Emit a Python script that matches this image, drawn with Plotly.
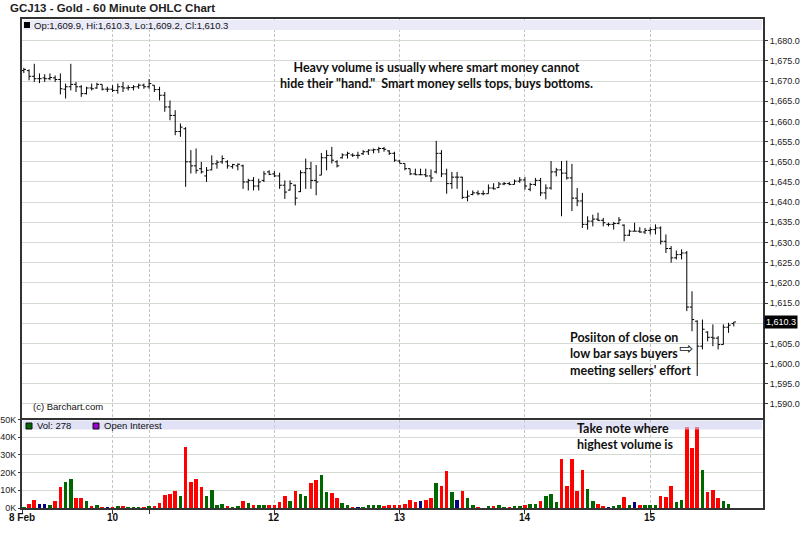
import plotly.graph_objects as go

# ---------------- data ----------------
title_text = "GCJ13 - Gold - 60 Minute OHLC Chart"
header_text = "Op:1,609.9, Hi:1,610.3, Lo:1,609.2, Cl:1,610.3"
vol_legend_text = "Vol: 278"
oi_legend_text = "Open Interest"
last_close_label = "1,610.3"
last_close = 1610.3

opens = [
    1672.6, 1672.6, 1671.2, 1670.6, 1670.8, 1670.6, 1670.8, 1670.4, 1668.0, 1668.6,
    1669.2, 1668.6, 1666.9, 1668.3, 1668.3, 1669.2, 1668.0, 1668.0, 1667.7, 1668.6,
    1668.3, 1668.4, 1668.6, 1669.0, 1668.6, 1669.0, 1667.9, 1666.5, 1663.6, 1661.5,
    1657.5, 1658.2, 1650.0, 1649.0, 1648.3, 1646.5, 1648.0, 1649.5, 1650.0, 1650.0,
    1648.8, 1649.0, 1649.0, 1645.0, 1645.4, 1644.0, 1645.4, 1647.5, 1647.0, 1646.5,
    1644.2, 1643.0, 1644.2, 1642.6, 1647.3, 1648.3, 1645.4, 1646.7, 1651.0, 1651.6,
    1650.0, 1651.0, 1651.7, 1651.7, 1651.6, 1652.0, 1652.5, 1652.9, 1653.0, 1653.3,
    1652.7, 1652.1, 1650.2, 1649.6, 1648.3, 1647.0, 1646.8, 1646.8, 1646.5, 1647.5,
    1652.1, 1647.0, 1644.6, 1646.2, 1646.2, 1641.2, 1641.9, 1642.3, 1642.1, 1642.1,
    1643.5, 1643.6, 1644.5, 1644.6, 1644.4, 1645.2, 1645.5, 1643.2, 1644.4, 1645.4,
    1642.3, 1643.5, 1647.5, 1648.0, 1647.2, 1646.0, 1641.0, 1640.3, 1634.5, 1635.3,
    1635.8, 1635.5, 1634.5, 1634.5, 1634.7, 1634.3, 1631.8, 1632.8, 1632.8, 1632.6,
    1633.0, 1633.2, 1633.6, 1630.3, 1628.5, 1626.2, 1627.0, 1627.4, 1614.0, 1610.5,
    1604.3, 1607.8, 1606.5, 1606.3, 1604.7, 1609.0, 1609.9,
]
highs = [
    1673.3, 1672.9, 1674.3, 1671.9, 1671.7, 1671.9, 1671.4, 1671.9, 1669.4, 1674.3,
    1669.8, 1669.0, 1668.6, 1669.4, 1669.6, 1669.2, 1668.6, 1669.0, 1669.4, 1669.8,
    1669.0, 1669.0, 1669.4, 1669.4, 1670.5, 1669.0, 1668.6, 1667.3, 1665.2, 1662.8,
    1659.5, 1658.6, 1652.9, 1653.3, 1650.0, 1648.7, 1651.6, 1650.4, 1651.6, 1650.4,
    1649.5, 1649.6, 1649.3, 1645.8, 1646.2, 1645.8, 1647.7, 1647.9, 1647.7, 1647.3,
    1645.4, 1645.4, 1644.4, 1647.9, 1650.8, 1650.0, 1649.2, 1652.2, 1652.9, 1653.7,
    1650.4, 1652.1, 1652.5, 1652.1, 1652.5, 1652.9, 1653.1, 1653.3, 1653.7, 1653.7,
    1652.9, 1652.5, 1650.4, 1649.6, 1648.3, 1648.3, 1648.3, 1648.3, 1648.1, 1655.2,
    1652.9, 1648.3, 1647.5, 1647.5, 1646.3, 1642.9, 1642.9, 1642.9, 1642.9, 1644.4,
    1644.7, 1645.0, 1645.0, 1645.0, 1645.6, 1646.2, 1646.2, 1644.8, 1646.0, 1646.0,
    1644.4, 1650.2, 1648.5, 1650.2, 1650.3, 1649.5, 1643.5, 1642.3, 1636.5, 1636.9,
    1637.4, 1636.1, 1634.9, 1635.1, 1636.3, 1634.5, 1633.2, 1634.9, 1633.8, 1633.6,
    1633.8, 1634.5, 1634.0, 1632.0, 1629.1, 1628.0, 1628.3, 1627.9, 1617.9, 1610.7,
    1610.9, 1608.0, 1609.7, 1606.8, 1609.7, 1610.1, 1610.3,
]
lows = [
    1672.0, 1670.2, 1669.8, 1669.5, 1669.8, 1670.2, 1669.8, 1666.7, 1665.7, 1667.7,
    1667.3, 1666.1, 1666.7, 1667.7, 1668.1, 1667.7, 1667.3, 1667.3, 1666.9, 1667.3,
    1667.7, 1667.7, 1668.1, 1668.1, 1668.1, 1667.3, 1665.2, 1662.4, 1660.3, 1656.6,
    1656.2, 1643.8, 1647.1, 1647.1, 1647.1, 1645.0, 1647.9, 1648.3, 1649.5, 1648.3,
    1648.3, 1647.9, 1643.3, 1642.9, 1642.9, 1642.9, 1645.0, 1646.7, 1646.2, 1643.3,
    1640.8, 1642.9, 1639.2, 1642.5, 1643.3, 1643.3, 1641.7, 1646.7, 1647.9, 1649.6,
    1648.6, 1650.8, 1650.8, 1651.2, 1650.8, 1651.7, 1651.7, 1652.1, 1652.2, 1652.5,
    1651.7, 1650.0, 1649.6, 1647.9, 1646.7, 1646.7, 1646.7, 1646.2, 1645.0, 1647.1,
    1646.2, 1642.1, 1643.3, 1643.3, 1640.8, 1640.2, 1641.7, 1641.7, 1641.7, 1642.1,
    1643.1, 1643.5, 1644.2, 1644.2, 1644.4, 1644.8, 1643.1, 1642.7, 1644.0, 1641.5,
    1640.7, 1643.1, 1646.4, 1636.5, 1645.6, 1637.8, 1639.0, 1633.6, 1633.2, 1634.0,
    1635.3, 1634.0, 1634.0, 1633.2, 1634.5, 1630.3, 1631.6, 1632.8, 1632.4, 1632.1,
    1632.0, 1632.0, 1629.5, 1627.4, 1625.0, 1625.8, 1625.8, 1613.0, 1608.0, 1596.9,
    1603.5, 1605.5, 1604.3, 1603.5, 1604.7, 1607.6, 1609.2,
]
closes = [
    1672.9, 1671.2, 1670.6, 1670.6, 1670.6, 1670.9, 1670.4, 1668.1, 1668.6, 1669.2,
    1668.6, 1666.9, 1668.3, 1668.1, 1669.2, 1668.0, 1668.0, 1667.7, 1668.6, 1668.3,
    1668.4, 1668.6, 1669.0, 1668.6, 1669.4, 1667.9, 1666.5, 1663.6, 1661.5, 1657.5,
    1658.6, 1650.0, 1649.0, 1647.9, 1647.5, 1647.9, 1649.5, 1649.9, 1650.8, 1649.0,
    1649.3, 1649.4, 1645.0, 1645.4, 1644.0, 1645.0, 1647.0, 1646.9, 1646.5, 1644.2,
    1642.5, 1644.6, 1641.0, 1647.3, 1648.3, 1645.4, 1645.0, 1651.0, 1651.6, 1650.4,
    1649.0, 1651.7, 1652.1, 1651.6, 1651.6, 1652.5, 1652.9, 1653.0, 1653.3, 1653.1,
    1652.1, 1650.4, 1649.6, 1648.3, 1647.0, 1646.8, 1646.8, 1646.5, 1646.0, 1652.1,
    1647.0, 1644.6, 1646.2, 1646.2, 1641.2, 1641.5, 1642.3, 1642.1, 1642.1, 1643.5,
    1643.3, 1644.5, 1644.6, 1644.4, 1645.2, 1645.5, 1644.0, 1644.4, 1645.4, 1642.3,
    1643.5, 1647.5, 1648.0, 1647.2, 1646.0, 1641.0, 1640.3, 1634.5, 1635.3, 1635.8,
    1635.5, 1634.9, 1634.5, 1634.7, 1635.6, 1631.8, 1632.8, 1632.8, 1632.6, 1633.0,
    1633.2, 1633.6, 1630.3, 1628.5, 1626.2, 1627.0, 1627.4, 1614.0, 1610.9, 1604.3,
    1608.5, 1606.5, 1606.3, 1604.7, 1609.0, 1609.5, 1610.3,
]
# volume in thousands of contracts
volumes_k = [
    0.8, 2.4, 5.0, 2.8, 2.4, 1.9, 4.1, 12.4, 14.8, 16.5,
    6.2, 5.8, 4.5, 1.3, 1.9, 0.9, 0.3, 0.9, 1.3, 1.3,
    0.9, 0.9, 0.9, 0.9, 1.3, 1.3, 3.0, 7.9, 8.4, 9.9,
    6.9, 35.0, 14.8, 16.5, 12.4, 7.3, 10.3, 1.9, 2.4, 1.3,
    0.9, 1.3, 4.1, 3.0, 1.9, 1.9, 1.9, 1.9, 1.9, 3.6,
    6.9, 4.5, 10.1, 8.0, 6.9, 14.4, 15.9, 18.9, 9.6, 8.6,
    6.0, 3.0, 1.9, 0.9, 0.3, 0.9, 1.9, 1.9, 1.9, 1.3,
    2.2, 1.9, 2.2, 2.8, 5.0, 3.6, 4.5, 4.9, 6.0, 14.6,
    12.9, 21.0, 9.6, 5.0, 9.9, 6.0, 1.9, 0.9, 0.2, 1.3,
    1.3, 1.9, 0.9, 0.9, 1.3, 1.3, 1.9, 2.8, 2.8, 4.5,
    7.3, 8.4, 3.6, 27.9, 12.7, 27.9, 10.1, 21.9, 11.2, 4.5,
    2.8, 1.3, 0.3, 1.3, 1.9, 6.4, 2.2, 3.4, 2.2, 2.2,
    2.2, 2.2, 6.9, 6.4, 12.7, 3.9, 4.9, 46.0, 34.0, 46.0,
    21.5, 9.2, 10.5, 6.0, 4.1, 2.4, 0.28,
]
# u = up (green), d = down (red), n = unchanged (navy)
vol_dir = ("uddnnudduu" "ddududndud" "uuududdddd" "udddduuuud" "uududuuddd"
           "duduudduud" "duudnuuuud" "ddddddnddu" "ddunduudnu" "duuduuduud"
           "uuuddddduu" "ddnuudundu" "uuddduuddd" "uddduuu")

day_tick_pos = [17, 24, 48, 72, 96, 120]
day_tick_labels = ["10", "", "12", "13", "14", "15"]
first_day_pos = -0.3
first_day_label = "8 Feb"
price_ticks = [1590, 1595, 1600, 1605, 1610, 1615, 1620, 1625, 1630, 1635,
               1640, 1645, 1650, 1655, 1660, 1665, 1670, 1675, 1680]
vol_ticks = [0, 10, 20, 30, 40, 50]
vol_tick_labels = ["0K", "10K", "20K", "30K", "40K", "50K"]

note_top = ("Heavy volume is usually where smart money cannot<br>"
            "hide their \"hand.\"\u00a0\u00a0Smart money sells tops, buys bottoms.")
note_close = "Posiiton of close on<br>low bar says buyers<br>meeting sellers' effort"
note_volume = "Take note where<br>highest volume is"
copyright_text = "(c) Barchart.com"

assert len(opens) == len(highs) == len(lows) == len(closes) == len(volumes_k) == len(vol_dir)

# ---------------- layout helpers ----------------
W, H = 800, 544
ML, MR, MT, MB = 22, 37, 19, 36
PW, PH = W - ML - MR, H - MT - MB


def px2x(px):
    return (px - ML) / PW


def py2y(py):
    return (H - MB - py) / PH


x_idx = list(range(len(closes)))
dir_colors = {"u": "#006600", "d": "#ff0000", "n": "#000080"}
vol_colors = [dir_colors[c] for c in vol_dir]
# the last-close box replaces the nearest price label
price_tick_text = ["" if abs(v - last_close) < 1 else f"{v:,.1f}" for v in price_ticks]

AX = "#333333"
GRID_H = "#d3dbd3"
GRID_V = "#c4c4c4"
TICKFONT = dict(family="Liberation Sans, Arial, sans-serif", size=9, color="#222222")

fig = go.Figure()
fig.add_trace(go.Ohlc(
    x=x_idx, open=opens, high=highs, low=lows, close=closes,
    increasing=dict(line=dict(color="black", width=1)),
    decreasing=dict(line=dict(color="black", width=1)),
    tickwidth=0.42, showlegend=False, xaxis="x", yaxis="y", hoverinfo="skip",
))
fig.add_trace(go.Bar(
    x=x_idx, y=volumes_k, marker=dict(color=vol_colors, line=dict(width=0)),
    width=0.68, showlegend=False, xaxis="x2", yaxis="y2", hoverinfo="skip",
))

xr = [-0.35, 141.6]
price_dom = [py2y(418), 1.0]
vol_dom = [0.0, py2y(419.5)]

fig.update_layout(
    width=W, height=H, autosize=False,
    margin=dict(l=ML, r=MR, t=MT, b=MB, pad=0, autoexpand=False),
    paper_bgcolor="white", plot_bgcolor="white",
    bargap=0,
    xaxis=dict(domain=[0, 1], anchor="y", range=xr, tickmode="array",
               tickvals=day_tick_pos, showticklabels=False, ticks="",
               showgrid=True, gridcolor=GRID_V, griddash="3px,2px", gridwidth=1,
               showline=True, mirror=True, linecolor=AX, linewidth=2, automargin=False,
               zeroline=False, rangeslider=dict(visible=False), fixedrange=True),
    yaxis=dict(domain=price_dom, anchor="x", side="right", range=[1586.5, 1685.4],
               tickmode="array", tickvals=price_ticks, ticktext=price_tick_text,
               ticks="outside", ticklen=3, tickcolor=AX, tickfont=TICKFONT,
               showgrid=True, gridcolor=GRID_H, gridwidth=1, automargin=False,
               showline=True, mirror=True, linecolor=AX, linewidth=2, zeroline=False),
    xaxis2=dict(domain=[0, 1], anchor="y2", range=xr, matches="x", tickmode="array",
                tickvals=[first_day_pos] + day_tick_pos, showticklabels=False,
                ticks="outside", ticklen=4, tickcolor=AX, automargin=False,
                showgrid=True, gridcolor=GRID_V, griddash="3px,2px", gridwidth=1,
                showline=True, mirror=True, linecolor=AX, linewidth=2,
                zeroline=False, rangeslider=dict(visible=False)),
    yaxis2=dict(domain=vol_dom, anchor="x2", side="left", range=[0, 50],
                tickmode="array", tickvals=vol_ticks, ticktext=vol_tick_labels,
                ticks="outside", ticklen=2, tickcolor=AX, tickfont=TICKFONT,
                showgrid=True, gridcolor=GRID_H, gridwidth=1, automargin=False,
                showline=True, mirror=True, linecolor=AX, linewidth=2, zeroline=False),
)

shapes = []
# header band in price panel
shapes.append(dict(type="rect", xref="paper", yref="paper",
                   x0=px2x(23), x1=px2x(762), y0=py2y(30), y1=py2y(20),
                   fillcolor="#eaeaf9", line=dict(width=0), layer="above"))
shapes.append(dict(type="rect", xref="paper", yref="paper",
                   x0=px2x(24), x1=px2x(30), y0=py2y(28), y1=py2y(22),
                   fillcolor="black", line=dict(width=0), layer="above"))
# legend band in volume panel (semi transparent so tall bars show pink)
shapes.append(dict(type="rect", xref="paper", yref="paper",
                   x0=px2x(23), x1=px2x(762), y0=py2y(429.5), y1=py2y(420.5),
                   fillcolor="#cfcff0", opacity=0.6, line=dict(width=0), layer="above"))
shapes.append(dict(type="rect", xref="paper", yref="paper",
                   x0=px2x(26), x1=px2x(32), y0=py2y(429), y1=py2y(423),
                   fillcolor="#006600", line=dict(color="#111111", width=1), layer="above"))
shapes.append(dict(type="rect", xref="paper", yref="paper",
                   x0=px2x(93), x1=px2x(99), y0=py2y(429), y1=py2y(423),
                   fillcolor="#9900cc", line=dict(color="#111111", width=1), layer="above"))
fig.update_layout(shapes=shapes)

SMALL = dict(family="Liberation Sans, Arial, sans-serif", size=9.5, color="#111111")
NOTE = dict(family="Lato, Open Sans, sans-serif", size=12.5, color="#111111", weight="bold")
XLAB = dict(family="Liberation Sans, Arial, sans-serif", size=10, color="#111111",
            weight="bold")

annotations = [
    dict(text=title_text, xref="paper", yref="paper", x=px2x(8), y=py2y(8),
         xanchor="left", yanchor="middle", showarrow=False,
         font=dict(family="Liberation Sans, Arial, sans-serif", size=11.5,
                   color="#222222", weight="bold")),
    dict(text=header_text, xref="paper", yref="paper", x=px2x(32), y=py2y(25),
         xanchor="left", yanchor="middle", showarrow=False, font=SMALL),
    dict(text=vol_legend_text, xref="paper", yref="paper", x=px2x(35), y=py2y(425.5),
         xanchor="left", yanchor="middle", showarrow=False, font=SMALL),
    dict(text=oi_legend_text, xref="paper", yref="paper", x=px2x(102), y=py2y(425.5),
         xanchor="left", yanchor="middle", showarrow=False, font=SMALL),
    dict(text=copyright_text, xref="paper", yref="paper", x=px2x(31), y=py2y(406),
         xanchor="left", yanchor="middle", showarrow=False, font=SMALL),
    dict(text=note_top, xref="paper", yref="paper", x=px2x(437), y=py2y(75.5),
         xanchor="center", yanchor="middle", align="center", showarrow=False, font=NOTE),
    dict(text=note_close, xref="paper", yref="paper", x=px2x(568), y=py2y(354),
         xanchor="left", yanchor="middle", align="left", showarrow=False, font=NOTE),
    dict(text="\u21e8", xref="paper", yref="paper", x=px2x(686), y=py2y(348),
         xanchor="center", yanchor="middle", showarrow=False,
         font=dict(family="DejaVu Sans", size=17, color="#111111")),
    dict(text=note_volume, xref="paper", yref="paper", x=px2x(575), y=py2y(436.5),
         xanchor="left", yanchor="middle", align="left", showarrow=False, font=NOTE),
    dict(text=last_close_label, xref="paper", yref="y", x=1, y=last_close,
         xanchor="left", yanchor="middle", xshift=1, showarrow=False,
         bgcolor="black", borderpad=1,
         font=dict(family="Liberation Sans, Arial, sans-serif", size=9, color="white")),
    dict(text=first_day_label, xref="x2", yref="paper", x=first_day_pos, y=py2y(517),
         xanchor="center", yanchor="middle", showarrow=False, font=XLAB),
]
for pos, lab in zip(day_tick_pos, day_tick_labels):
    if lab:
        annotations.append(dict(text=lab, xref="x2", yref="paper", x=pos, y=py2y(517),
                                xanchor="center", yanchor="middle", showarrow=False,
                                font=XLAB))
fig.update_layout(annotations=annotations)

# remove the page's default 8px body margin so the 800x544 figure fills the window
fig.write_html("out.html", config={"displayModeBar": False},
               post_script="document.body.style.margin='0';document.body.style.overflow='hidden';")
